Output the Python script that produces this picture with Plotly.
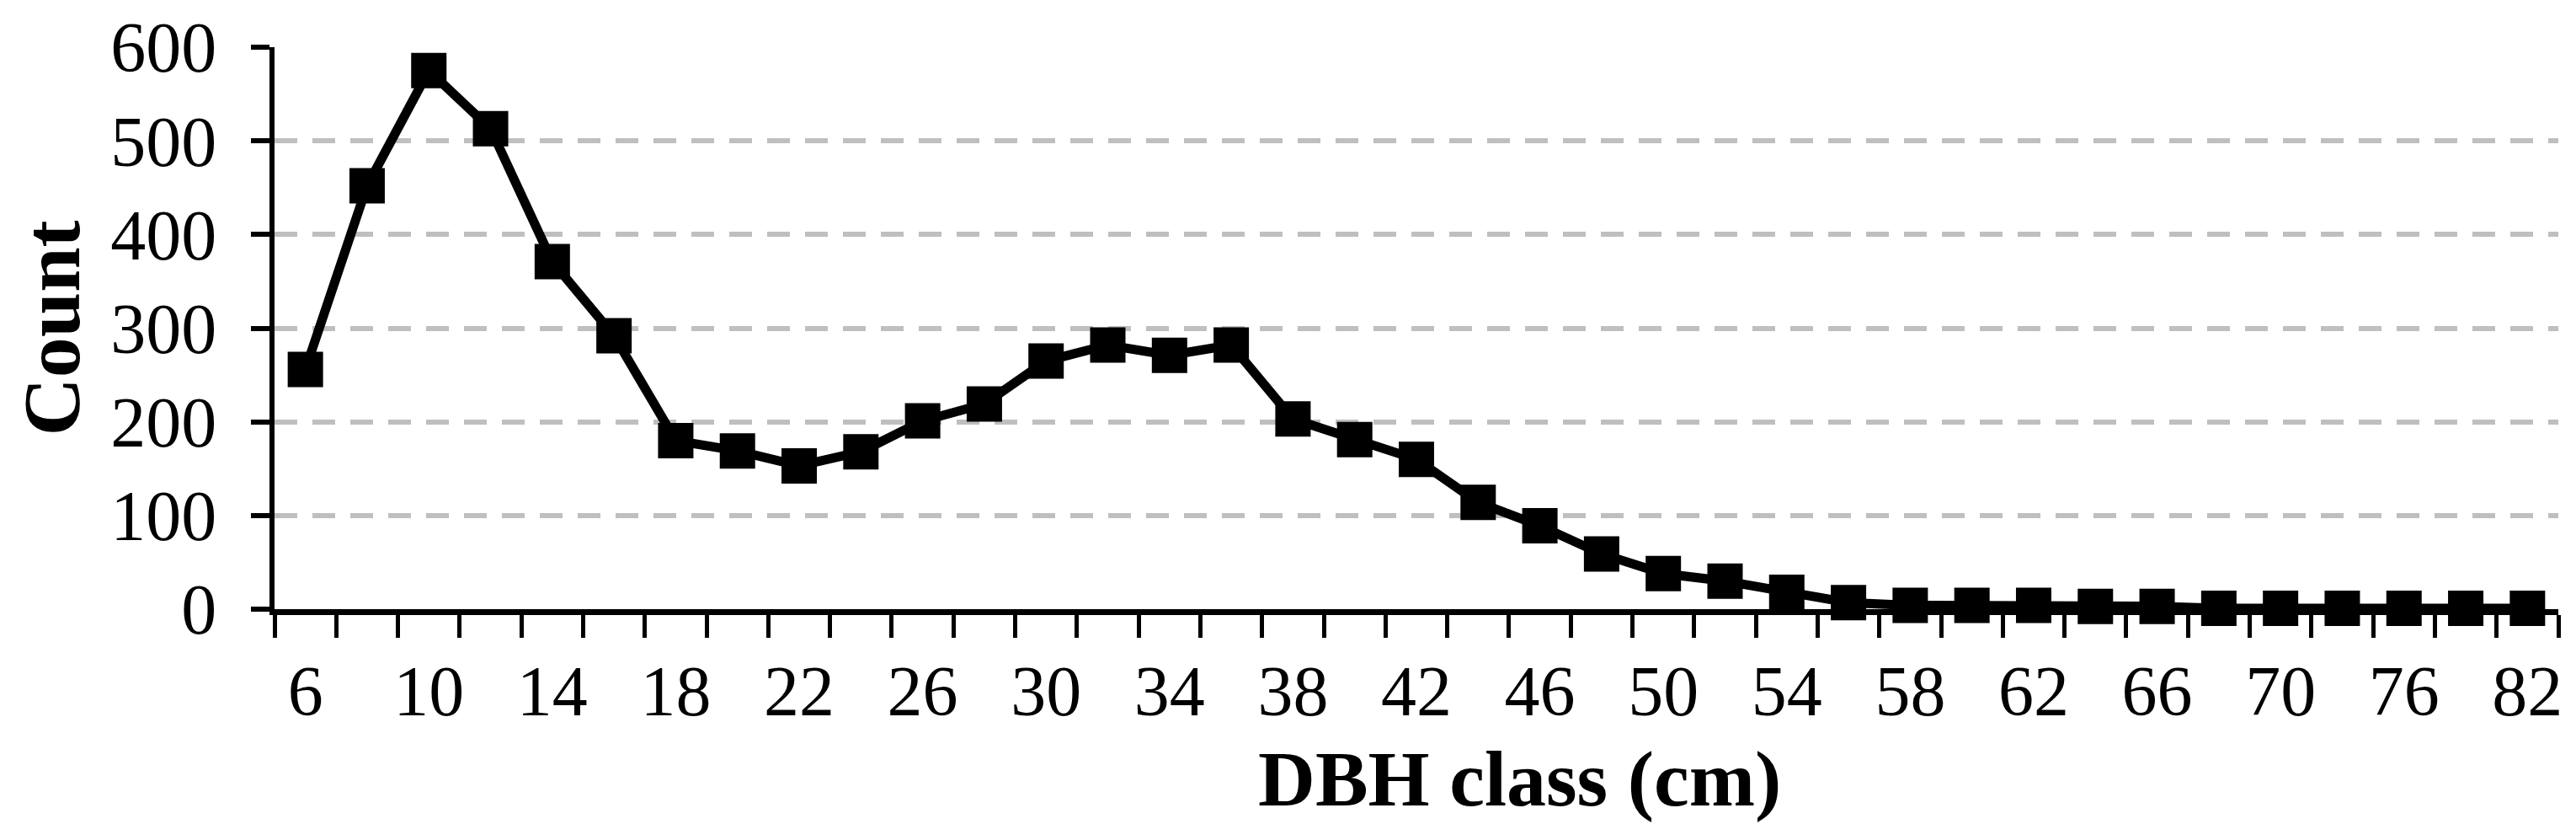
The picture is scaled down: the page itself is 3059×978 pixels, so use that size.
import plotly.graph_objects as go

# DBH classes (cm) and tree counts
dbh_class = ["6", "8", "10", "12", "14", "16", "18", "20", "22", "24", "26", "28",
             "30", "32", "34", "36", "38", "40", "42", "44", "46", "48", "50", "52",
             "54", "56", "58", "60", "62", "64", "66", "68", "70", "73", "76", "79", "82"]
count = [256, 452, 575, 513, 371, 292, 180, 169, 153, 168, 201, 219,
         265, 282, 271, 282, 203, 181, 160, 114, 89, 59, 38, 30,
         18, 7, 4, 4, 4, 3, 3, 1, 1, 1, 1, 1, 1]

# only every other class gets a label
tick_text = [c if i % 2 == 0 else "" for i, c in enumerate(dbh_class)]
y_ticks = [0, 100, 200, 300, 400, 500, 600]

font_name = "Liberation Serif, Times New Roman, serif"

fig = go.Figure()
fig.add_trace(go.Scatter(
    x=dbh_class, y=count,
    mode="lines+markers",
    line=dict(color="black", width=11),
    marker=dict(symbol="square", size=42, color="black"),
    showlegend=False,
    cliponaxis=False,
))

fig.update_layout(
    width=3059, height=978,
    margin=dict(l=318, r=29, t=48, b=263),
    paper_bgcolor="white", plot_bgcolor="white",
    font=dict(family=font_name, color="black", size=80),
)

fig.update_xaxes(
    type="category",
    range=[-0.5, len(dbh_class) - 0.5],
    tickvals=dbh_class, ticktext=tick_text,
    tickson="boundaries", tickangle=0,
    ticks="outside", ticklen=27, tickwidth=5, tickcolor="black",
    showline=True, linewidth=7, linecolor="black",
    showgrid=False, zeroline=False, automargin=False,
    tickfont=dict(family=font_name, size=84),
    ticklabelstandoff=18,
)

fig.update_yaxes(
    range=[0, 600],
    tickvals=y_ticks,
    ticks="outside", ticklen=22, tickwidth=6, tickcolor="black",
    showline=True, linewidth=6, linecolor="black",
    showgrid=True, gridcolor="#BFBFBF", gridwidth=6, griddash="27px,18px",
    zeroline=False, automargin=False,
    tickfont=dict(family=font_name, size=84),
    ticklabelstandoff=24,
    title=dict(text="<b>Count</b>", font=dict(family=font_name, size=96), standoff=66),
)

# x title sits right of the plot centre in the original
fig.add_annotation(
    text="<b>DBH class (cm)</b>", xref="paper", yref="paper",
    x=(1796 - 318) / (3030 - 318), y=-(916 - 715) / (715 - 48),
    xanchor="center", yanchor="middle", showarrow=False,
    font=dict(family=font_name, size=94, color="black"),
)

fig.write_html("out.html")
